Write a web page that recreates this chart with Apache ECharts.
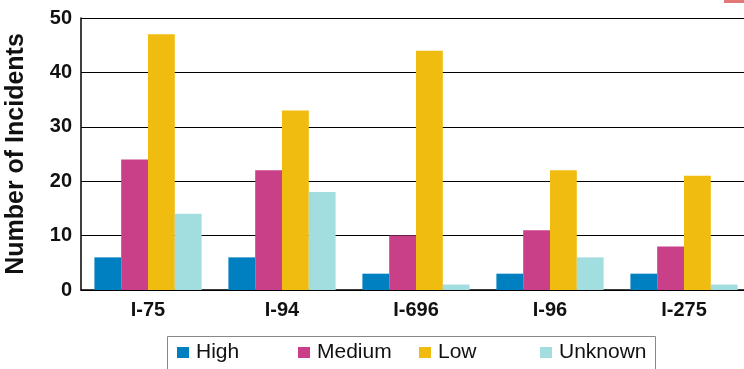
<!DOCTYPE html>
<html>
<head>
<meta charset="utf-8">
<script src="https://cdn.jsdelivr.net/npm/echarts@6/dist/echarts.min.js"></script>
<style>
  html, body { margin: 0; padding: 0; background: #fff; }
  #chart { width: 744px; height: 369px; }
</style>
</head>
<body>
<div id="chart"></div>
<script>
// Incident counts by highway and severity
const routes = ['I-75', 'I-94', 'I-696', 'I-96', 'I-275'];
const high = [6, 6, 3, 3, 3];
const medium = [24, 22, 10, 11, 8];
const low = [47, 33, 44, 22, 21];
const unknown = [14, 18, 1, 6, 1];
const yTicks = [0, 10, 20, 30, 40, 50];

const severityNames = ['High', 'Medium', 'Low', 'Unknown'];
const severityColors = ['#0080C0', '#C94089', '#F0BC10', '#A2DDE0'];
const severityData = [high, medium, low, unknown];

const FONT = '"Liberation Sans", Arial, sans-serif';

// Legend: one entry per severity, laid out on evenly spaced slots inside a framed box
const LEGEND_LEFT = 165, LEGEND_TOP = 334, LEGEND_W = 488, LEGEND_H = 40;
const SLOT_START = 177, SLOT_STEP = 121;

const legends = severityNames.map((name, i) => ({
  data: [name],
  left: SLOT_START + i * SLOT_STEP,
  top: LEGEND_TOP + 8,
  padding: 0,
  itemWidth: 12,
  itemHeight: 11,
  icon: 'rect',
  selectedMode: false,
  textStyle: { fontFamily: FONT, fontSize: 21, color: '#111', padding: [0, 0, 0, 2] }
}));

const chart = echarts.init(document.getElementById('chart'), null, { renderer: 'canvas' });

chart.setOption({
  animation: false,
  backgroundColor: '#ffffff',
  grid: { left: 81, top: 18, width: 670, height: 272, containLabel: false, outerBoundsMode: 'none' },
  legend: legends,
  xAxis: {
    type: 'category',
    data: routes,
    axisLine: { show: true, lineStyle: { color: '#000', width: 1.5 } },
    axisTick: { show: false },
    axisLabel: { fontFamily: FONT, fontWeight: 'bold', fontSize: 20, color: '#111', margin: 10 },
    splitLine: { show: false }
  },
  yAxis: {
    type: 'value',
    min: yTicks[0],
    max: yTicks[yTicks.length - 1],
    interval: yTicks[1] - yTicks[0],
    name: 'Number of Incidents',
    nameLocation: 'middle',
    nameGap: 52,
    nameTextStyle: { fontFamily: FONT, fontWeight: 'bold', fontSize: 25, color: '#111' },
    axisLine: { show: true, lineStyle: { color: '#000', width: 1.5 } },
    axisTick: { show: false },
    axisLabel: { fontFamily: FONT, fontWeight: 'bold', fontSize: 20, color: '#111', margin: 9 },
    splitLine: { show: true, lineStyle: { color: '#000', width: 1 } }
  },
  series: severityNames.map((name, i) => ({
    name: name,
    type: 'bar',
    data: severityData[i],
    barGap: '0%',
    barCategoryGap: '20%',
    itemStyle: { color: severityColors[i] }
  })),
  graphic: [
    {
      type: 'rect', left: LEGEND_LEFT, top: LEGEND_TOP, silent: true,
      shape: { width: LEGEND_W, height: LEGEND_H },
      style: { fill: 'none', stroke: '#888888', lineWidth: 1 }
    },
    { type: 'rect', right: 0, top: 0, shape: { width: 20, height: 3 }, style: { fill: '#E07878' } }
  ]
});
</script>
</body>
</html>
